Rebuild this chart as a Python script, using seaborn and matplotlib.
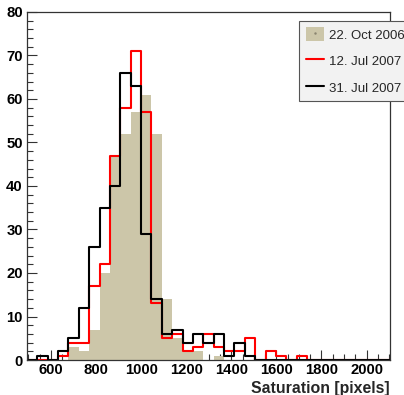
import numpy as np
import pandas as pd
import matplotlib
matplotlib.use("Agg")
import matplotlib.pyplot as plt
import seaborn as sns
from matplotlib.patches import Patch
from matplotlib.lines import Line2D

# bin edges: 35 bins of width 46 from 494
edges = list(range(494, 2104 + 1, 46))
centers = [(a + b) / 2 for a, b in zip(edges[:-1], edges[1:])]

oct_2006 = [0, 0, 0, 0, 3, 2, 7, 20, 47, 52, 57, 61, 52, 14, 5, 2, 2, 0,
            1, 0, 0, 0, 0, 0, 0, 0, 0, 0, 0, 0, 0, 0, 0, 0, 0]
jul12_2007 = [0, 0, 0, 1, 4, 4, 17, 22, 47, 58, 71, 57, 13, 5, 6, 2, 3, 6,
              3, 2, 2, 5, 0, 2, 1, 0, 1, 0, 0, 0, 0, 0, 0, 0, 0]
jul31_2007 = [0, 1, 0, 2, 5, 12, 26, 35, 40, 66, 63, 29, 14, 6, 7, 4, 6, 4,
              6, 1, 4, 1, 0, 0, 0, 0, 0, 0, 0, 0, 0, 0, 0, 0, 0]
labels = ["22. Oct 2006", "12. Jul 2007", "31. Jul 2007"]

df = pd.DataFrame({"sat": centers, "oct": oct_2006,
                   "jul12": jul12_2007, "jul31": jul31_2007})

tan = "#ccc6a9"

sns.set_style("ticks")
plt.rcParams["font.family"] = ["Liberation Sans", "DejaVu Sans"]

fig = plt.figure(figsize=(4.04, 3.95), dpi=100)
ax = fig.add_axes([27 / 404, 35 / 395, 363 / 404, 348 / 395])

sns.histplot(data=df, x="sat", weights="oct", bins=edges, element="step",
             fill=True, color=tan, alpha=1, linewidth=0, ax=ax)
sns.histplot(data=df, x="sat", weights="jul12", bins=edges, element="step",
             fill=False, color="red", linewidth=1.5, ax=ax)
sns.histplot(data=df, x="sat", weights="jul31", bins=edges, element="step",
             fill=False, color="black", linewidth=1.5, ax=ax)

ax.set_xlim(494, 2104)
ax.set_ylim(0, 80)
ax.set_xticks(np.arange(600, 2001, 200))
ax.set_xticks(np.arange(500, 2101, 50), minor=True)
ax.set_yticks(np.arange(0, 81, 10))
ax.set_yticks(np.arange(0, 81, 2), minor=True)
ax.tick_params(axis="both", which="both", direction="in", colors="#333333",
               labelcolor="black", width=0.8)
ax.tick_params(axis="x", which="major", length=7, pad=2, labelsize=10.7)
ax.tick_params(axis="x", which="minor", length=4)
ax.tick_params(axis="y", which="major", length=7.5, pad=3, labelsize=10.7)
ax.tick_params(axis="y", which="minor", length=4)
for lab in ax.get_xticklabels() + ax.get_yticklabels():
    lab.set_fontweight("bold")

for side in ["top", "right", "left", "bottom"]:
    ax.spines[side].set_visible(True)
    ax.spines[side].set_linewidth(0.9)
    ax.spines[side].set_color("#333333")

ax.set_ylabel("")
ax.set_xlabel("Saturation [pixels]", loc="right", fontsize=11.4,
              fontweight="bold", labelpad=3)

handles = [
    (Patch(facecolor=tan, edgecolor="none"),
     Line2D([], [], marker=".", ms=1.5, color="#8a8570", ls="none")),
    Line2D([], [], color="red", lw=1.5),
    Line2D([], [], color="black", lw=1.5),
]
leg = fig.legend(handles, labels, loc="upper left",
                 bbox_to_anchor=(299 / 404, 1 - 20.5 / 395),
                 fontsize=9.5, frameon=True, fancybox=False, shadow=False,
                 framealpha=1, facecolor="#f2f2f2", edgecolor="#555555",
                 handlelength=1.4, handleheight=1.3, handletextpad=0.35,
                 labelspacing=0.9, borderpad=0.5, borderaxespad=0)
leg.get_frame().set_linewidth(0.8)

fig.savefig("out.png", dpi=100)
